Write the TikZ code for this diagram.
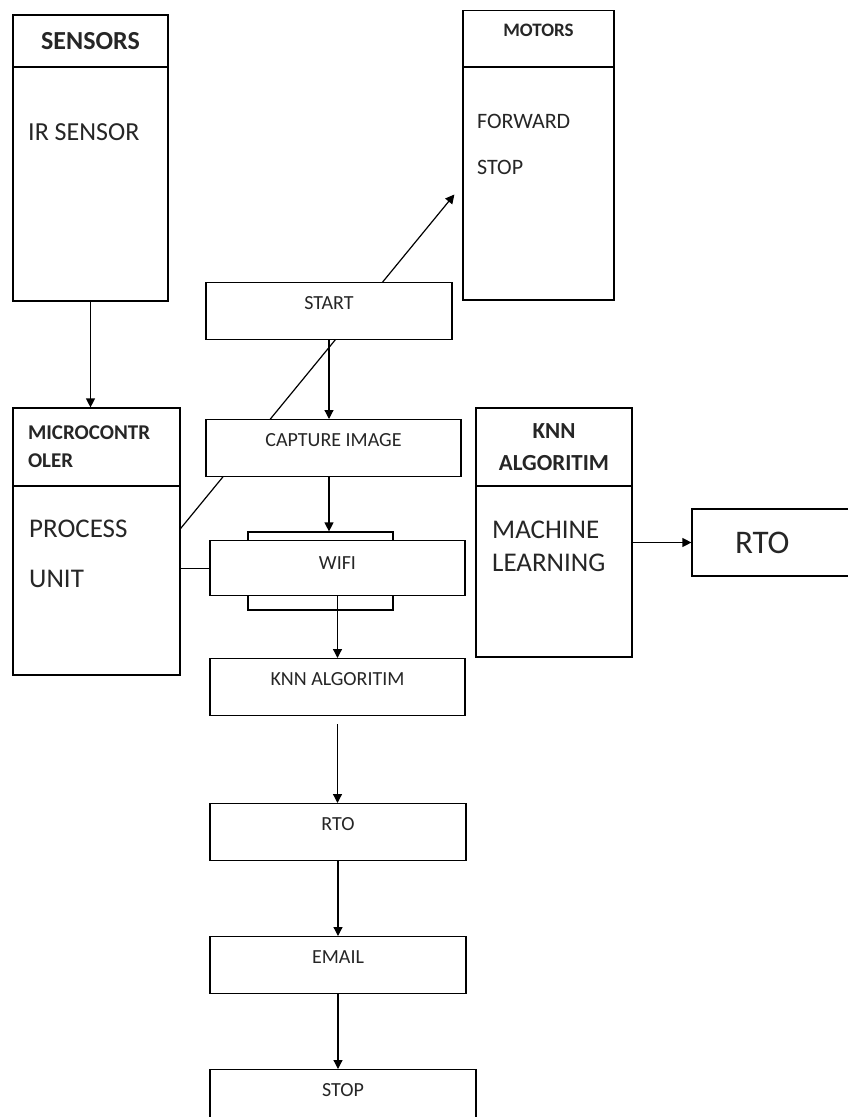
\documentclass[tikz,border=0pt]{standalone}
\usepackage{fontspec}
\setmainfont{Carlito}
\usetikzlibrary{arrows.meta}

\tikzset{
  box/.style={draw, line width=1.2pt, inner sep=0pt, fill=white, text=black!85},
  flow/.style={box, anchor=north, minimum width=255pt, text height=27pt, text depth=30pt,
    font=\fontsize{20}{24}\selectfont},
  lbl/.style={anchor=west, inner sep=0pt, text=black!85},
  link/.style={line width=1.2pt, -{Triangle[length=9pt, width=9pt]}},
}

\begin{document}
\begin{tikzpicture}[x=1pt, y=-1pt]
\useasboundingbox (0,0) rectangle (848,1117);

% sensors block
\node[box, minimum width=155pt, minimum height=52pt, font=\bfseries\fontsize{26}{30}\selectfont] (sensH) at (90.5,41) {SENSORS};
\node[box, minimum width=155pt, minimum height=234pt] (sens) at (90.5,184) {};
\node[lbl, font=\fontsize{26}{30}\selectfont] (irs) at (28,132) {IR SENSOR};

% motors block
\node[box, anchor=north, minimum width=151pt, text height=26pt, text depth=31pt, font=\bfseries\fontsize{19}{22}\selectfont] (motH) at (538.5,10) {MOTORS};
\node[box, minimum width=151pt, minimum height=233pt] (mot) at (538.5,183.5) {};
\node[lbl, font=\fontsize{22}{26}\selectfont] (fwd) at (477,121) {FORWARD};
\node[lbl, font=\fontsize{22}{26}\selectfont] (mstop) at (477,167) {STOP};

% microcontroller block
\node[box, minimum width=167pt, minimum height=78pt, text width=137pt, align=left, font=\bfseries\fontsize{21}{28}\selectfont] (microH) at (96.5,447) {MICROCONTR\\OLER};
\node[box, minimum width=167pt, minimum height=189pt] (micro) at (96.5,580.5) {};
\node[lbl, font=\fontsize{27}{32}\selectfont] (proc) at (29,529) {PROCESS};
\node[lbl, font=\fontsize{27}{32}\selectfont] (unit) at (29,579) {UNIT};

% knn block and rto
\node[box, minimum width=156pt, minimum height=78pt, align=center, font=\bfseries\fontsize{23}{32}\selectfont] (knnH) at (554,447) {KNN\\ALGORITIM};
\node[box, minimum width=156pt, minimum height=171pt] (knnB) at (554,571.5) {};
\node[lbl, font=\fontsize{27}{32}\selectfont] (mach) at (492,530) {MACHINE};
\node[lbl, font=\fontsize{27}{32}\selectfont] (learn) at (492,563) {LEARNING};
\node[box, minimum height=67pt, text width=74pt, inner xsep=43pt, align=left, font=\fontsize{33}{38}\selectfont] (rtoR) at (772,542.5) {RTO};

% process unit to motors, behind the flow boxes
\draw[link] ([yshift=52pt]micro.east) -- ([xshift=-8pt, yshift=-11pt]mot.west);

% flow chart
\node[flow, minimum width=246pt] (start) at (329,282) {START};
\node[flow] (capture) at (333.5,419) {CAPTURE IMAGE};
\node[box, minimum width=145pt, minimum height=78pt] (wifiB) at (320.5,571) {};
\node[flow, text height=29pt, text depth=26pt] (wifi) at (337.5,540) {WIFI};
\node[flow] (knn) at (337.5,658) {KNN ALGORITIM};
\node[flow, minimum width=256pt] (rto) at (338,803) {RTO};
\node[flow, minimum width=256pt] (email) at (338,936) {EMAIL};
\node[flow, minimum width=266pt] (stop) at (343,1069) {STOP};

\draw[link] (sens.south) -- (sens.south |- microH.north);
\draw[link] (start.south) -- (start.south |- capture.north);
\draw[link] (start.south |- capture.south) -- (start.south |- wifiB.north);
\draw[link] (wifi.south) -- (knn.north);
\draw[link] ([yshift=-8pt]knn.south) -- (knn.south |- rto.north);
\foreach \a/\b in {rto/email, email/stop}
  \draw[link] (\a.south) -- (\a.south |- \b.north);
\draw[line width=1.2pt] (micro.east |- wifi.west) -- (wifi.west);
\draw[link] (knnB.east |- rtoR.west) -- (rtoR.west);

\end{tikzpicture}
\end{document}
